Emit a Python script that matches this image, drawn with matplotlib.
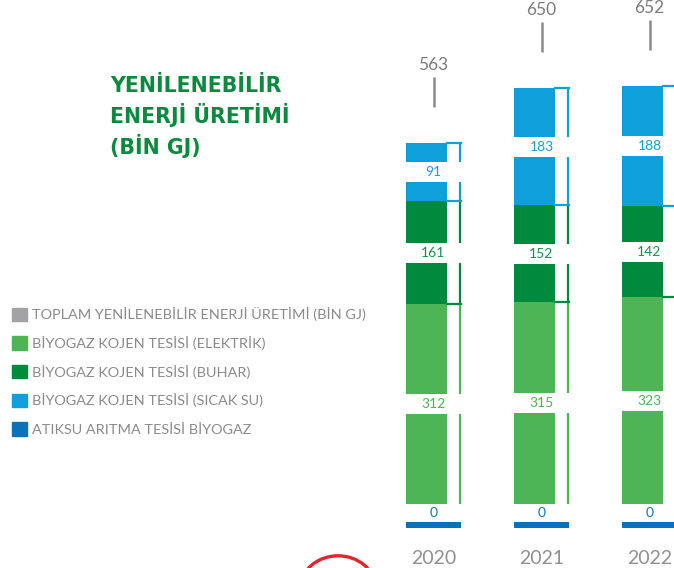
import matplotlib.pyplot as plt
from matplotlib.patches import Patch, Circle

# veriler (BİN GJ)
years = ["2020", "2021", "2022"]
elektrik = [312, 315, 323]
buhar = [161, 152, 142]
sicak_su = [91, 183, 188]
atiksu = [0, 0, 0]
toplam = [563, 650, 652]

legend_labels = [
    "TOPLAM YENİLENEBİLİR ENERJİ ÜRETİMİ (BİN GJ)",
    "BİYOGAZ KOJEN TESİSİ (ELEKTRİK)",
    "BİYOGAZ KOJEN TESİSİ (BUHAR)",
    "BİYOGAZ KOJEN TESİSİ (SICAK SU)",
    "ATIKSU ARITMA TESİSİ BİYOGAZ",
]

C_GRAY = "#a3a3a6"
C_TEXT = "#8a8a8c"
C_LGREEN = "#4db556"
C_DGREEN = "#008a3e"
C_LBLUE = "#0fa0dc"
C_DBLUE = "#0b72b9"

W, H = 674, 568
PX_CAT = 108.0      # piksel / kategori
X0 = 426.5          # ilk çubuğun merkezi (px)
K = 0.64            # piksel / birim
BASE = 64           # sıfır çizgisinin alttan yüksekliği (px)

fig = plt.figure(figsize=(W / 100, H / 100), dpi=100)
ax = fig.add_axes([0, 0, 1, 1])
ax.axis("off")
ax.set_xlim(-X0 / PX_CAT, (W - X0) / PX_CAT)
ax.set_ylim(-BASE / K, (H - BASE) / K)

def px_x(p):
    return p / PX_CAT

def px_y(p):
    return p / K

x = list(range(len(years)))
bw = px_x(41)
brk = px_x(33)          # braket çizgisinin merkezden uzaklığı
lab_off = px_x(7)       # etiketlerin merkezden kayması

series = [
    (elektrik, C_LGREEN, C_LGREEN),
    (buhar, C_DGREEN, "#14924a"),
    (sicak_su, C_LBLUE, C_LBLUE),
]

bottoms = [0, 0, 0]
for si, (vals, col, tcol) in enumerate(series):
    ax.bar(x, vals, bw, bottom=bottoms, color=col, linewidth=0, zorder=2)
    for i, v in enumerate(vals):
        b = bottoms[i]
        t = b + v
        xr = x[i] + bw / 2
        xb = x[i] + brk
        ax.plot([xb, xb], [b, t], color=col, lw=1.6, zorder=2,
                solid_capstyle="butt")
        if si > 0:
            ax.plot([xr, xb + px_x(1)], [b, b], color=col, lw=1.6, zorder=3)
        if si == len(series) - 1:
            ax.plot([xr, xb + px_x(1)], [t, t], color=col, lw=1.6, zorder=3)
        mid = b + v / 2
        gap = px_y(20)
        ax.bar(x[i] + px_x(7), gap, px_x(60), bottom=mid - gap / 2,
               color="white", linewidth=0, zorder=4)
        ax.text(x[i] + lab_off, mid, str(v), ha="center", va="center",
                fontsize=10, color=tcol, fontfamily="Lato", zorder=5)
    bottoms = [bottoms[i] + vals[i] for i in range(len(vals))]

# atıksu arıtma tesisi biyogaz (0)
ax.bar([xi + px_x(7) for xi in x], px_y(6), px_x(55),
       bottom=[a - px_y(24) for a in atiksu], color=C_DBLUE, linewidth=0)
for i, v in enumerate(atiksu):
    ax.text(x[i] + lab_off, v - px_y(9), str(v), ha="center", va="center",
            fontsize=10, color=C_DBLUE, fontfamily="Lato")

# toplam
for i, v in enumerate(toplam):
    top = bottoms[i]
    ax.plot([x[i] + lab_off] * 2, [top + px_y(36), top + px_y(66)],
            color="#8c8c8f", lw=1.8, solid_capstyle="butt")
    ax.text(x[i] + lab_off, top + px_y(78), str(v), ha="center",
            va="center", fontsize=12.5, color="#7d7d80", fontfamily="Lato")

# yıllar
for i, y in enumerate(years):
    ax.text(x[i] + lab_off, -px_y(BASE - 10), y, ha="center", va="center",
            fontsize=14, color="#909092", fontfamily="Lato")

# başlık
fig.text(110 / W, 1 - 117 / H,
         "YENİLENEBİLİR\nENERJİ ÜRETİMİ\n(BİN GJ)",
         ha="left", va="center", fontsize=14.8, fontweight="bold",
         color="#0a8a3c", linespacing=1.35, fontfamily="DejaVu Sans")

# lejant
handles = [Patch(color=c) for c in [C_GRAY, C_LGREEN, C_DGREEN, C_LBLUE, C_DBLUE]]
leg = fig.legend(handles, legend_labels, loc="upper left",
                 bbox_to_anchor=(5 / W, 1 - 300 / H), frameon=False,
                 handlelength=1.05, handleheight=1.05,
                 handletextpad=0.35, labelspacing=1.02, borderpad=0,
                 prop={"family": "Lato", "size": 10.4})
for t in leg.get_texts():
    t.set_color(C_TEXT)

# alttaki kırmızı yay
fig.patches.append(Circle((338 / W, 1 - 587 / H), 37 / W, fill=False,
                          edgecolor="#e3262d", lw=2.4,
                          transform=fig.transFigure))

fig.savefig("out.png", dpi=100)
